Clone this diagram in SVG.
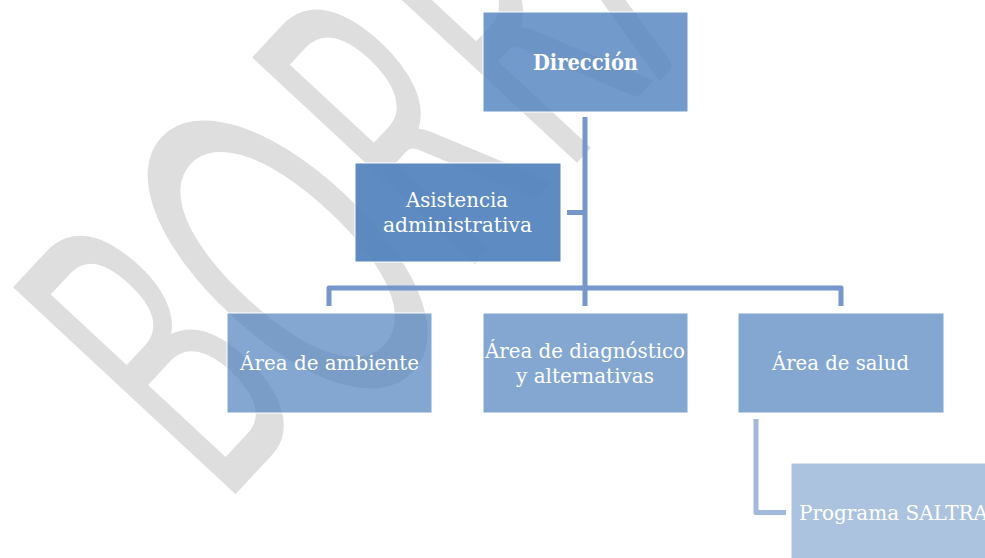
<svg xmlns="http://www.w3.org/2000/svg" width="985" height="558" viewBox="0 0 985 558">
<style>
.box{fill:#4F81BD;stroke:#ffffff;stroke-width:1}
.lbl{font-family:"DejaVu Serif","Liberation Serif",serif;font-size:20px;fill:#ffffff}
.conn{fill:none;stroke:#7597c9;stroke-width:5;stroke-linejoin:round}
.wm{font-family:Lato,"Liberation Sans",sans-serif;font-size:424px;fill:#dedede;text-anchor:middle}
</style>
<rect width="985" height="558" fill="#ffffff"/>
<g id="watermark">
<text class="wm" transform="translate(269,458.2) rotate(-47.1) scale(0.5,1)">B</text>
<text class="wm" style="font-size:470px" transform="translate(411,369) rotate(-47.1) scale(0.5,1)">O</text>
<text class="wm" transform="translate(506.7,229.9) rotate(-47.1) scale(0.5,1)">R</text>
<text class="wm" transform="translate(609,128.4) rotate(-47.1) scale(0.5,1)">R</text>
<text class="wm" transform="translate(707.9,29.2) rotate(-47.1) scale(0.5,1)">A</text>
</g>
<g id="connectors">
<path class="conn" d="M585,117 V306"/>
<path class="conn" d="M567,212.5 H585"/>
<path class="conn" d="M329,306 V288 H841 V306"/>
<path class="conn" style="stroke:#a3b9db" d="M756,419 V512.5 H786"/>
</g>
<g id="direccion">
<rect class="box" style="fill-opacity:0.8" x="483" y="12" width="205" height="100"/>
<text class="lbl" style="font-weight:bold;font-size:22px" x="533" y="70" textLength="105" lengthAdjust="spacingAndGlyphs">Dirección</text>
</g>
<g id="asistencia">
<rect class="box" style="fill-opacity:0.92" x="355" y="163" width="206" height="99"/>
<text class="lbl" x="406" y="207" textLength="102" lengthAdjust="spacingAndGlyphs">Asistencia</text>
<text class="lbl" x="383" y="232" textLength="149" lengthAdjust="spacingAndGlyphs">administrativa</text>
</g>
<g id="area-ambiente">
<rect class="box" style="fill-opacity:0.7" x="227" y="313" width="205" height="100"/>
<text class="lbl" x="240" y="370" textLength="179" lengthAdjust="spacingAndGlyphs">Área de ambiente</text>
</g>
<g id="area-diagnostico">
<rect class="box" style="fill-opacity:0.7" x="483" y="313" width="205" height="100"/>
<text class="lbl" x="485" y="358" textLength="200" lengthAdjust="spacingAndGlyphs">Área de diagnóstico</text>
<text class="lbl" x="516" y="383" textLength="138" lengthAdjust="spacingAndGlyphs">y alternativas</text>
</g>
<g id="area-salud">
<rect class="box" style="fill-opacity:0.7" x="738" y="313" width="206" height="100"/>
<text class="lbl" x="772" y="370" textLength="137" lengthAdjust="spacingAndGlyphs">Área de salud</text>
</g>
<g id="programa-saltra">
<rect class="box" style="fill-opacity:0.48" x="791" y="463" width="206" height="100"/>
<text class="lbl" x="799" y="520" textLength="189" lengthAdjust="spacingAndGlyphs">Programa SALTRA</text>
</g>
</svg>
